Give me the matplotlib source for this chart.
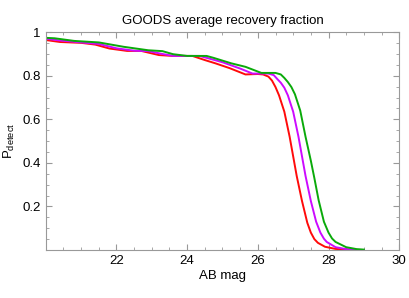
import matplotlib
matplotlib.use("Agg")
import matplotlib.pyplot as plt
from matplotlib.ticker import MultipleLocator, FixedLocator

plt.rcParams["font.family"] = ["Liberation Sans", "DejaVu Sans"]
plt.rcParams["mathtext.fontset"] = "custom"
plt.rcParams["mathtext.rm"] = "Liberation Sans"

# red curve
mag_red = [20.0, 20.4, 21.0, 21.4, 21.8, 22.3, 22.7, 23.2, 23.6, 24.15, 24.5, 24.8,
           25.2, 25.65, 26.0, 26.15, 26.3, 26.4, 26.5, 26.6, 26.75, 26.9, 27.0, 27.1,
           27.25, 27.4, 27.5, 27.6, 27.7, 27.9, 28.2, 28.6, 28.95]
p_red = [0.964, 0.955, 0.951, 0.943, 0.925, 0.914, 0.914, 0.895, 0.891, 0.891, 0.872, 0.857,
         0.835, 0.806, 0.808, 0.806, 0.796, 0.778, 0.748, 0.71, 0.635, 0.52, 0.43, 0.34,
         0.225, 0.125, 0.08, 0.05, 0.033, 0.015, 0.005, 0.001, 0.0]

# magenta curve
mag_mag = [20.0, 20.4, 21.0, 21.5, 22.0, 22.5, 22.9, 23.3, 23.6, 24.35, 24.6, 25.0,
           25.5, 25.85, 26.3, 26.45, 26.55, 26.65, 26.75, 26.85, 27.0, 27.15, 27.25,
           27.35, 27.5, 27.65, 27.77, 27.87, 27.95, 28.2, 28.5, 28.8, 29.0]
p_mag = [0.970, 0.962, 0.953, 0.946, 0.926, 0.915, 0.913, 0.900, 0.891, 0.891, 0.880, 0.862,
         0.833, 0.810, 0.810, 0.803, 0.785, 0.768, 0.745, 0.71, 0.635, 0.52, 0.43,
         0.34, 0.225, 0.13, 0.08, 0.052, 0.037, 0.013, 0.004, 0.001, 0.0]

# green curve
mag_grn = [20.0, 20.25, 20.8, 21.5, 22.2, 22.9, 23.3, 23.6, 24.0, 24.55, 24.75, 25.25,
           25.65, 26.1, 26.5, 26.65, 26.75, 26.85, 26.95, 27.05, 27.2, 27.35, 27.5,
           27.6, 27.72, 27.87, 28.0, 28.1, 28.2, 28.5, 28.8, 29.0]
p_grn = [0.974, 0.972, 0.960, 0.953, 0.933, 0.917, 0.913, 0.899, 0.891, 0.891, 0.882, 0.857,
         0.841, 0.813, 0.813, 0.806, 0.79, 0.771, 0.748, 0.715, 0.64, 0.52, 0.41,
         0.33, 0.229, 0.13, 0.08, 0.053, 0.037, 0.013, 0.004, 0.002]

xticks = [22, 24, 26, 28, 30]
yticks = [0.2, 0.4, 0.6, 0.8, 1.0]
yticklabels = ["0.2", "0.4", "0.6", "0.8", "1"]

fig = plt.figure(figsize=(4.09, 2.98), dpi=100)
ax = fig.add_axes([0.112, 0.161, 0.864, 0.731])

ax.plot(mag_red, p_red, color="#ff0a0a", lw=1.4)
ax.plot(mag_mag, p_mag, color="#cc0aff", lw=1.4)
ax.plot(mag_grn, p_grn, color="#0aaa0a", lw=1.4)

ax.set_xlim(20, 30)
ax.set_ylim(0, 1)
ax.xaxis.set_major_locator(FixedLocator(xticks))
ax.yaxis.set_major_locator(FixedLocator(yticks))
ax.set_yticklabels(yticklabels)
ax.xaxis.set_minor_locator(MultipleLocator(0.5))
ax.yaxis.set_minor_locator(MultipleLocator(0.05))

for s in ax.spines.values():
    s.set_color("#999999")
ax.tick_params(which="both", direction="in", top=True, right=True, color="#999999",
               labelsize=9.5, labelcolor="black")
ax.tick_params(which="major", length=4)
ax.tick_params(which="minor", length=2)

ax.set_title("GOODS average recovery fraction", fontsize=9.5, pad=6)
ax.set_xlabel("AB mag", fontsize=9.5, labelpad=2)
ax.set_ylabel(r"P$_{\mathrm{detect}}$", fontsize=9.5, labelpad=4)

fig.savefig("out.png", dpi=100)
